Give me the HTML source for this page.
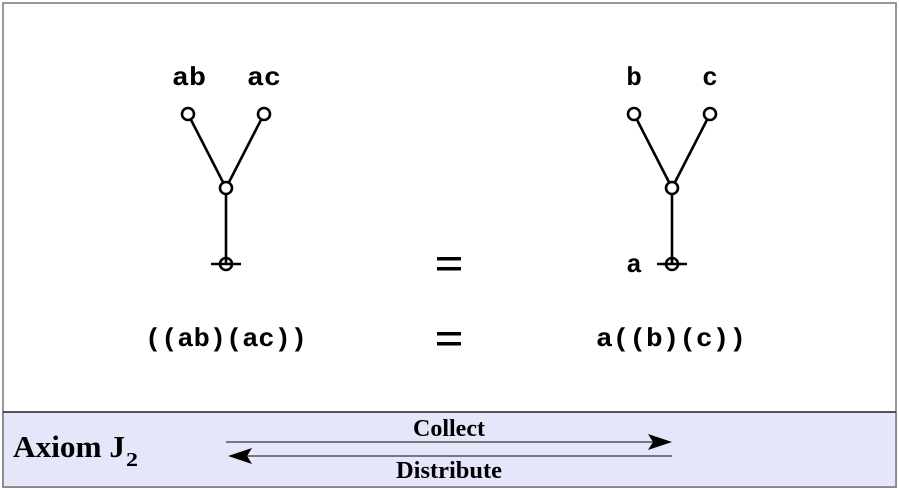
<!DOCTYPE html>
<html><head><meta charset="utf-8"><style>
html,body{margin:0;padding:0;background:#fff;}
svg{display:block;}
</style></head><body>
<svg width="899" height="490" viewBox="0 0 899 490" xmlns="http://www.w3.org/2000/svg">
<rect x="3" y="3" width="893" height="484" fill="#fff" stroke="#777" stroke-width="1.5"/>
<rect x="3" y="412" width="893" height="75" fill="#e6e6fa" stroke="#777" stroke-width="1.5"/>
<line x1="3" y1="412" x2="896" y2="412" stroke="#333" stroke-width="1.5"/>
<g stroke="#000" stroke-width="2.6" fill="#fff">
<line x1="188" y1="114" x2="226" y2="188"/><line x1="264" y1="114" x2="226" y2="188"/>
<line x1="226" y1="188" x2="226" y2="264"/><line x1="211" y1="264" x2="241" y2="264"/>
<circle cx="188" cy="114" r="6"/><circle cx="264" cy="114" r="6"/><circle cx="226" cy="188" r="6"/>
<circle cx="226" cy="264" r="6" fill="none"/>
<line x1="634" y1="114" x2="672" y2="188"/><line x1="710" y1="114" x2="672" y2="188"/>
<line x1="672" y1="188" x2="672" y2="264"/><line x1="657" y1="264" x2="687" y2="264"/>
<circle cx="634" cy="114" r="6"/><circle cx="710" cy="114" r="6"/><circle cx="672" cy="188" r="6"/>
<circle cx="672" cy="264" r="6" fill="none"/>
</g>
<g font-family="Liberation Mono, monospace" font-weight="bold" font-size="26" fill="#000" text-anchor="middle">
<text x="189" y="85" textLength="34" lengthAdjust="spacingAndGlyphs">ab</text>
<text x="264" y="85" textLength="34" lengthAdjust="spacingAndGlyphs">ac</text>
<text x="634" y="85">b</text>
<text x="710" y="85">c</text>
<text x="634" y="272">a</text>
<text x="226" y="346" textLength="162" lengthAdjust="spacingAndGlyphs">((ab)(ac))</text>
<text x="671" y="346" textLength="150" lengthAdjust="spacingAndGlyphs">a((b)(c))</text>
</g>
<g fill="#000">
<rect x="437" y="257" width="24" height="3.5"/><rect x="437" y="267" width="24" height="3.5"/>
<rect x="437" y="332" width="24" height="3.5"/><rect x="437" y="342" width="24" height="3.5"/>
</g>
<text x="13" y="457" font-family="Liberation Serif, serif" font-weight="bold" font-size="31" textLength="112" lengthAdjust="spacingAndGlyphs">Axiom J</text>
<text x="126" y="466" font-family="Liberation Serif, serif" font-weight="bold" font-size="20" textLength="12" lengthAdjust="spacingAndGlyphs">2</text>
<g stroke="#333" stroke-width="1.3">
<line x1="226" y1="442" x2="655" y2="442"/>
<line x1="245" y1="456" x2="672" y2="456"/>
</g>
<path d="M672 442 L648 434 L653 442 L648 450 Z" fill="#000"/>
<path d="M228 456 L252 448 L247 456 L252 464 Z" fill="#000"/>
<g font-family="Liberation Serif, serif" font-weight="bold" font-size="24" text-anchor="middle">
<text x="449" y="436" textLength="72" lengthAdjust="spacingAndGlyphs">Collect</text>
<text x="449" y="478" textLength="106" lengthAdjust="spacingAndGlyphs">Distribute</text>
</g>
</svg>
</body></html>
